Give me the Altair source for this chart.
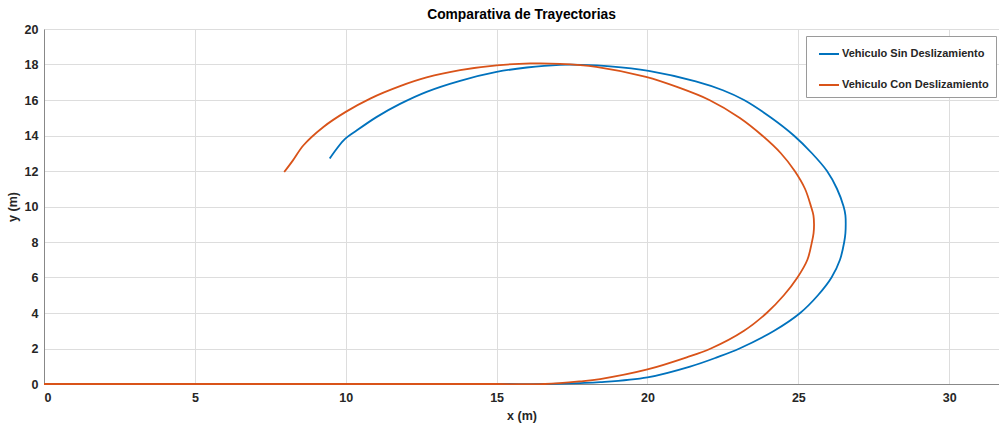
import altair as alt
import pandas as pd

# Vehículo Sin Deslizamiento (blue)
sin_x = [0.0, 15.0, 16.6, 17.77, 18.43, 20.0, 21.41, 22.3, 23.05, 24.2, 25.06, 25.65, 26.1,
         26.38, 26.52, 26.56, 26.57, 26.56, 26.5, 26.28, 25.95, 25.45, 24.85, 24.1, 23.2, 22.5, 21.6,
         20.04, 18.76, 17.8, 17.1, 16.0, 15.0, 13.79, 12.68, 11.8, 11.03, 10.37, 9.93, 9.47]
sin_y = [0.0, 0.0, 0.0, 0.05, 0.1, 0.37, 0.98, 1.5, 2.0, 3.0, 4.0, 5.0, 6.0,
         7.0, 8.0, 8.5, 9.0, 9.5, 10.0, 11.0, 12.0, 13.0, 14.0, 15.0, 16.0, 16.55, 17.05,
         17.64, 17.9, 17.98, 17.98, 17.83, 17.58, 17.08, 16.46, 15.78, 15.05, 14.29, 13.73, 12.7]

# Vehículo Con Deslizamiento (orange)
con_x = [0.0, 15.0, 16.6, 17.77, 18.43, 20.0, 21.3, 22.1, 23.2, 23.95, 24.52, 24.97,
         25.3, 25.45, 25.505, 25.52, 25.5, 25.42, 25.22, 24.88, 24.42, 23.8, 23.05, 22.05, 21.0, 19.95,
         18.3, 17.1, 16.12, 15.0, 13.79, 12.68, 11.8, 10.81, 10.0, 9.26, 8.6, 8.25, 7.96]
con_y = [0.0, 0.0, 0.0, 0.15, 0.28, 0.82, 1.5, 2.0, 3.0, 4.0, 5.0, 6.0,
         7.0, 8.0, 8.5, 9.0, 9.5, 10.0, 11.0, 12.0, 13.0, 14.0, 15.0, 16.0, 16.72, 17.3,
         17.87, 18.04, 18.06, 17.95, 17.68, 17.27, 16.78, 16.08, 15.33, 14.48, 13.45, 12.6, 11.94]

series = ["Vehiculo Sin Deslizamiento", "Vehiculo Con Deslizamiento"]
colors = ["#0072BD", "#D95319"]

rows = []
for i, (x, y) in enumerate(zip(sin_x, sin_y)):
    rows.append({"x": x, "y": y, "s": series[0], "i": i, "k": 0})
for i, (x, y) in enumerate(zip(con_x, con_y)):
    rows.append({"x": x, "y": y, "s": series[1], "i": i, "k": 1})
df = pd.DataFrame(rows)

FONT = "Liberation Sans"
LBL = dict(labelFont=FONT, labelFontSize=12.5, labelFontWeight="bold",
           labelColor="#262626", titleFont=FONT, titleFontSize=12.5,
           titleFontWeight="bold", titleColor="#262626")

chart = alt.Chart(df).mark_line(strokeWidth=1.8, interpolate="catmull-rom").encode(
    x=alt.X("x:Q", title="x (m)",
            scale=alt.Scale(domain=[0, 31.65], nice=False, zero=False),
            axis=alt.Axis(values=[0, 5, 10, 15, 20, 25, 30], ticks=False,
                          labelPadding=7, titlePadding=6, **LBL)),
    y=alt.Y("y:Q", title="y (m)",
            scale=alt.Scale(domain=[0, 20], nice=False),
            axis=alt.Axis(values=list(range(0, 21, 2)), ticks=False,
                          labelPadding=6, titlePadding=5, **LBL)),
    color=alt.Color("s:N", title=None,
                    scale=alt.Scale(domain=series, range=colors),
                    legend=alt.Legend(orient="none", legendX=762, legendY=7,
                                      symbolType="stroke", symbolSize=400,
                                      symbolStrokeWidth=2, padding=7,
                                      symbolOffset=5,
                                      rowPadding=15, labelOffset=2,
                                      strokeColor="#9a9a9a", fillColor="white",
                                      labelFont=FONT, labelFontSize=11,
                                      labelFontWeight="bold", labelColor="#262626")),
    detail="k:N",
    order=alt.Order("i:Q"),
).properties(
    width=955, height=355,
    title=alt.TitleParams("Comparativa de Trayectorias", font=FONT, fontSize=13.8,
                          fontWeight="bold", color="#000000", offset=1),
    padding={"left": 44, "top": 29, "right": 0, "bottom": 39},
    autosize=alt.AutoSizeParams(type="none"),
).configure_view(
    stroke="#9a9a9a", strokeWidth=1
).configure_axis(
    gridColor="#e6e6e6", gridWidth=1, domainColor="#7f7f7f", domainWidth=1,
).configure(background="white")

chart.save("out.html", embed_options={"renderer": "svg", "actions": False})
